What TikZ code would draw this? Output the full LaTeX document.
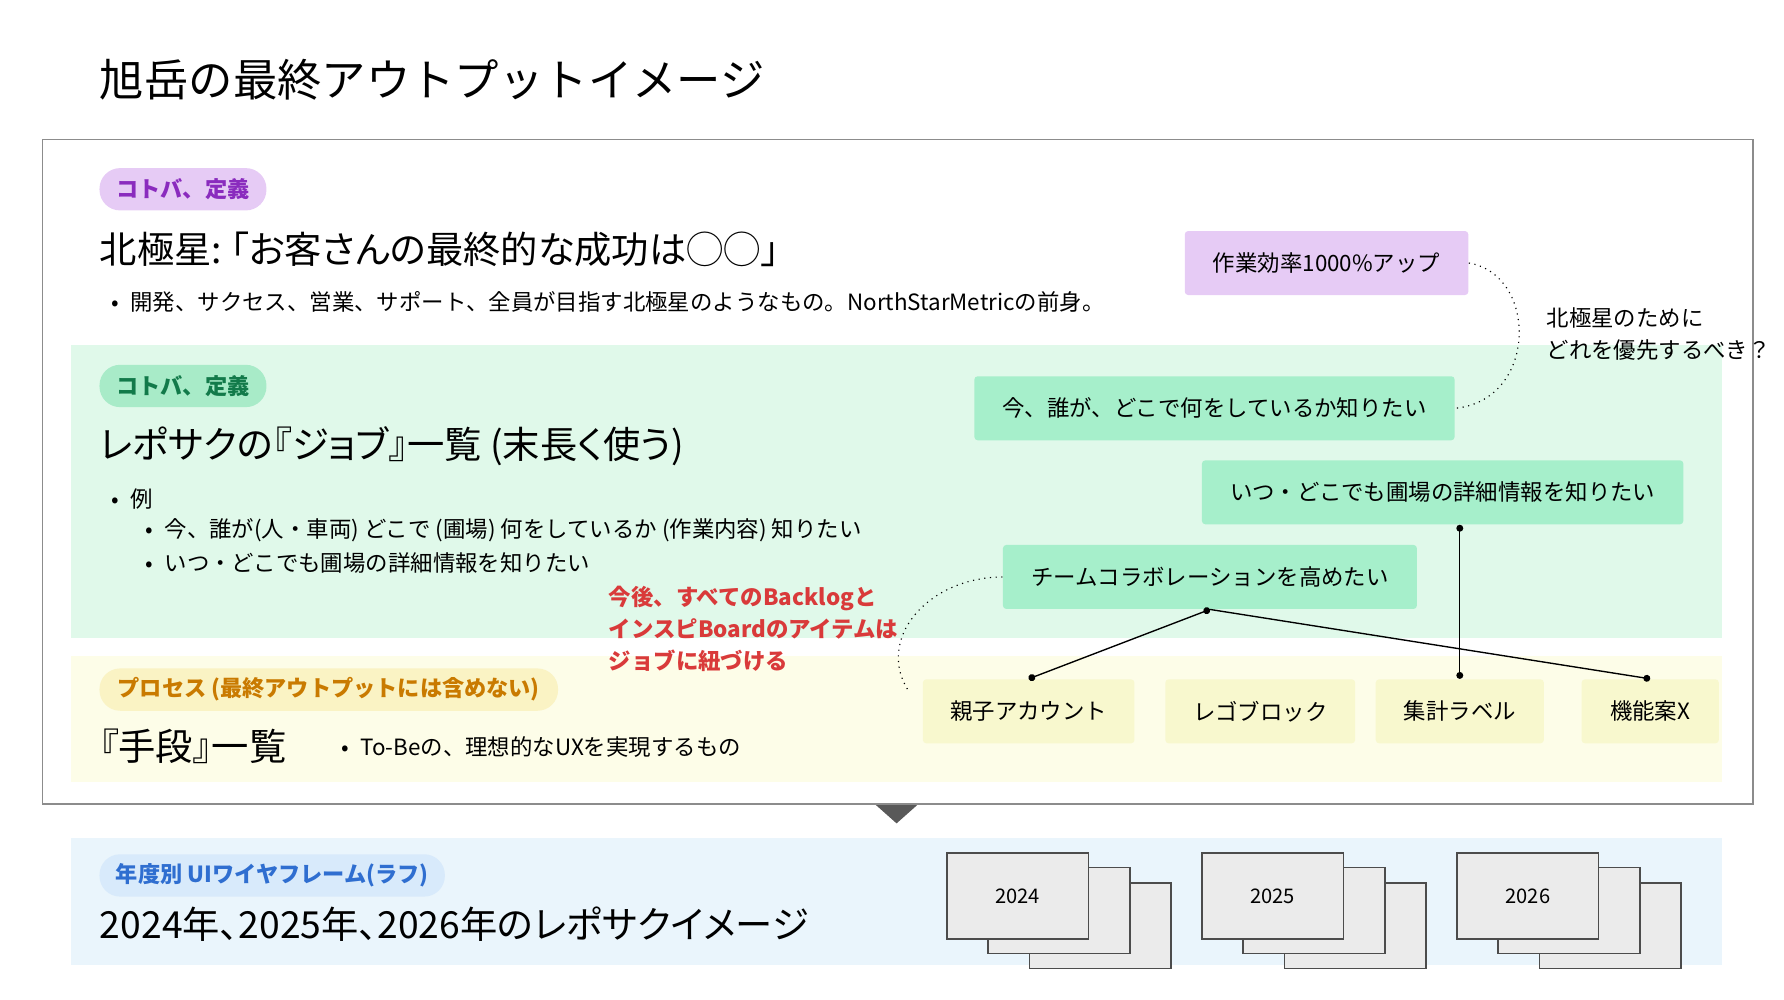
\documentclass[tikz,border=0pt]{standalone}
\usepackage{fontspec}
\setmainfont{Noto Sans CJK JP}
\newfontfamily\paltfont{Noto Sans CJK JP}[RawFeature=+palt]
\usetikzlibrary{calc,positioning,arrows.meta}
\definecolor{pillpurple}{HTML}{E6CBF5}
\definecolor{textpurple}{HTML}{8A2BBE}
\definecolor{pillgreen}{HTML}{A8EBC8}
\definecolor{textgreen}{HTML}{127A4A}
\definecolor{pillyellow}{HTML}{FAF3C4}
\definecolor{textorange}{HTML}{C97A00}
\definecolor{pillblue}{HTML}{D8EAFB}
\definecolor{textblue}{HTML}{2F6ED0}
\definecolor{bandgreen}{HTML}{E0F9EA}
\definecolor{bandyellow}{HTML}{FDFDE8}
\definecolor{bandblue}{HTML}{EAF5FC}
\definecolor{boxgreen}{HTML}{A6EFCB}
\definecolor{boxyellow}{HTML}{F8F8CE}
\definecolor{notered}{HTML}{D93A3A}
\tikzstyle{pill} = [rounded corners=9pt, minimum height=18.5pt, inner sep=0pt, font=\fontsize{9.7}{11}\selectfont\bfseries]
\tikzstyle{heading} = [anchor=west, inner sep=0pt, font=\paltfont\fontsize{16.3}{19}\selectfont]
\tikzstyle{body} = [anchor=west, inner sep=0pt, font=\fontsize{9.8}{11}\selectfont]
\tikzstyle{jobbox} = [fill=boxgreen, rounded corners=1.5pt, minimum height=28pt, inner sep=0pt, font=\fontsize{9.8}{11}\selectfont]
\tikzstyle{toolbox} = [fill=boxyellow, rounded corners=1.5pt, minimum height=28pt, inner sep=0pt, font=\fontsize{9.8}{11}\selectfont]
\tikzstyle{link} = [line width=0.6pt]
\tikzstyle{dotlink} = [line width=0.5pt, dotted]
\tikzstyle{sheet} = [fill=black!8, draw=black!70, line width=0.6pt, minimum width=62pt, minimum height=37.5pt, inner sep=0pt, font=\fontsize{8.8}{10}\selectfont]
\begin{document}
\begin{tikzpicture}[x=0.5pt, y=-0.5pt]
        \useasboundingbox (0,0) rectangle (1560,874);
        % bands and frame
        \fill [bandgreen] (62,302) rectangle (1506,558);
        \fill [bandyellow] (62,574) rectangle (1506,684);
        \fill [bandblue] (62,733) rectangle (1506,844);
        \draw [black!45, line width=0.6pt] (37,122) rectangle (1533,703);
        \fill [black!65] (766,704) -- (802,704) -- (784,720) -- cycle;
        \node (title) [anchor=west, inner sep=0pt, font=\fontsize{19.4}{22}\selectfont] at (87,70) {旭岳の最終アウトプットイメージ};
        % north star
        \node (pill-1) [pill, fill=pillpurple, text=textpurple, minimum width=73pt] at (160,165.5) {コトバ、定義};
        \node (north) [heading] at (87,218) {北極星:\ 「お客さんの最終的な成功は◯◯」};
        \node (north-note) [body] at (97,264) {•\hspace{5pt}開発、サクセス、営業、サポート、全員が目指す北極星のようなもの。NorthStarMetricの前身。};
        % jobs
        \node (pill-2) [pill, fill=pillgreen, text=textgreen, minimum width=73pt] at (160,337.5) {コトバ、定義};
        \node (jobs) [heading] at (87,390) {レポサクの『ジョブ』一覧 (末長く使う)};
        \node (ex) [body] at (97,436) {•\hspace{5pt}例};
        \node (ex-1) [body] at (127,464) {•\hspace{5pt}今、誰が(人・車両) どこで (圃場) 何をしているか (作業内容) 知りたい};
        \node (ex-2) [body] at (127,492) {•\hspace{5pt}いつ・どこでも圃場の詳細情報を知りたい};
        \node (note) [body, font=\fontsize{9.8}{14}\selectfont\bfseries, text=notered, align=left, anchor=north west] at (532,512) {今後、すべてのBacklogと\\インスピBoardのアイテムは\\ジョブに紐づける};
        % means
        \node (pill-3) [pill, fill=pillyellow, text=textorange, minimum width=200.5pt] at (287.5,603) {プロセス (最終アウトプットには含めない)};
        \node (means) [heading] at (87,653) {『手段』一覧};
        \node (means-note) [body] at (298,653) {•\hspace{5pt}To-Beの、理想的なUXを実現するもの};
        % wireframes
        \node (pill-4) [pill, fill=pillblue, text=textblue, minimum width=151pt] at (238,765.5) {年度別 UIワイヤフレーム(ラフ)};
        \node (years) [heading] at (87,808) {2024年、2025年、2026年のレポサクイメージ};
        % goal and jobs
        \node (goal) [jobbox, fill=pillpurple, minimum width=124pt] at (1160,230) {作業効率1000\%アップ};
        \node (question) [body, align=left, font=\fontsize{9.8}{14}\selectfont] at (1352,292) {北極星のために\\どれを優先するべき？};
        \node (job-1) [jobbox, minimum width=210pt] at (1062,357) {今、誰が、どこで何をしているか知りたい};
        \node (job-2) [jobbox, minimum width=210.5pt] at (1261.5,430.5) {いつ・どこでも圃場の詳細情報を知りたい};
        \node (job-3) [jobbox, minimum width=181pt] at (1058,504.5) {チームコラボレーションを高めたい};
        \node (tool-1) [toolbox, minimum width=92.5pt] at (899.5,622) {親子アカウント};
        \node (tool-2) [toolbox, minimum width=83pt] at (1102,622) {レゴブロック};
        \node (tool-3) [toolbox, minimum width=73.5pt] at (1276.5,622) {集計ラベル};
        \node (tool-4) [toolbox, minimum width=60pt] at (1443,622) {機能案X};
        \coordinate (note-end) at (795,605);
        \draw [dotlink] (goal.east) .. controls (1345,240) and (1345,350) .. (job-1.east);
        \draw [dotlink] (job-3.west) .. controls (810,505) and (765,560) .. (note-end);
        \draw [link, {Circle[length=3pt]}-{Circle[length=3pt]}] (job-3.south) -- (tool-1.north);
        \draw [link, -{Circle[length=3pt]}] (job-3.south) -- (tool-4.north);
        \draw [link, {Circle[length=3pt]}-{Circle[length=3pt]}] (job-2.south -| tool-3.north) -- (tool-3.north);
        % sheets
        \foreach \year/\dx in {2024/0, 2025/223, 2026/446} {
            \node (back-\year) [sheet] at (962+\dx,809.5) {};
            \node (mid-\year) [sheet] at (926+\dx,796) {};
            \node (front-\year) [sheet] at (890+\dx,783.5) {\year};
        }
    \end{tikzpicture}
\end{document}
